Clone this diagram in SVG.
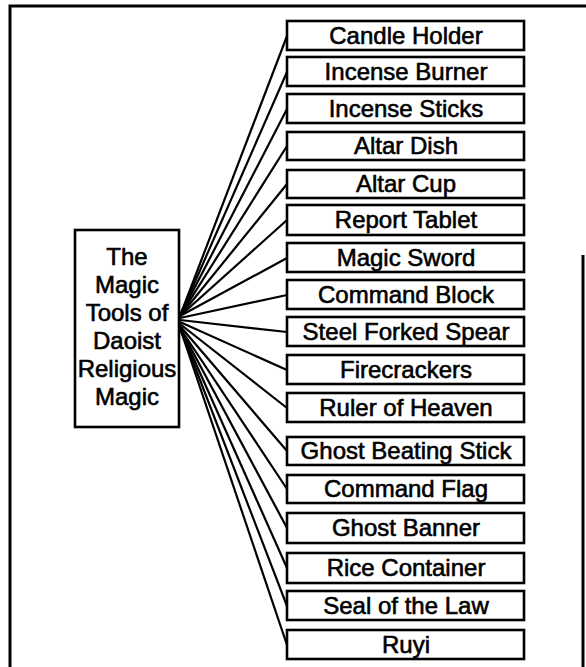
<svg xmlns="http://www.w3.org/2000/svg" width="586" height="667" viewBox="0 0 586 667">
<style>
.frame{fill:none;stroke:#000;stroke-width:3}
.box{fill:#fff;stroke:#000;stroke-width:2.6}
.t{font-family:"Liberation Sans",Arial,sans-serif;font-size:24px;fill:#000;stroke:#000;stroke-width:0.6;text-anchor:middle}
.c{stroke:#000;stroke-width:2.2;fill:none}
</style>
<rect width="586" height="667" fill="#fff"/>
<path class="frame" d="M10,670 V6 H586 M583,255 V670"/>
<g id="connectors">
<line class="c" x1="180" y1="316" x2="287" y2="36"/>
<line class="c" x1="180" y1="316" x2="287" y2="72"/>
<line class="c" x1="180" y1="316" x2="287" y2="109"/>
<line class="c" x1="180" y1="316" x2="287" y2="146"/>
<line class="c" x1="180" y1="316" x2="287" y2="184"/>
<line class="c" x1="180" y1="316" x2="287" y2="220"/>
<line class="c" x1="180" y1="316" x2="287" y2="258"/>
<line class="c" x1="180" y1="318" x2="287" y2="295"/>
<line class="c" x1="180" y1="320" x2="287" y2="332"/>
<line class="c" x1="180" y1="322" x2="287" y2="370"/>
<line class="c" x1="180" y1="324" x2="287" y2="408"/>
<line class="c" x1="180" y1="326" x2="287" y2="451"/>
<line class="c" x1="180" y1="328" x2="287" y2="489"/>
<line class="c" x1="180" y1="328" x2="287" y2="528"/>
<line class="c" x1="180" y1="328" x2="287" y2="568"/>
<line class="c" x1="180" y1="328" x2="287" y2="606"/>
<line class="c" x1="180" y1="328" x2="287" y2="645"/>
</g>
<g id="root">
<rect class="box" x="75" y="230" width="104" height="197"/>
<text class="t" x="127" y="265">The</text>
<text class="t" x="127" y="293">Magic</text>
<text class="t" x="127" y="321">Tools of</text>
<text class="t" x="127" y="349">Daoist</text>
<text class="t" x="127" y="377">Religious</text>
<text class="t" x="127" y="405">Magic</text>
</g>
<g id="n1"><rect class="box" x="287" y="21" width="237" height="29"/><text class="t" x="406" y="44">Candle Holder</text></g>
<g id="n2"><rect class="box" x="287" y="57" width="237" height="29"/><text class="t" x="406" y="80">Incense Burner</text></g>
<g id="n3"><rect class="box" x="287" y="94" width="237" height="29"/><text class="t" x="406" y="117">Incense Sticks</text></g>
<g id="n4"><rect class="box" x="287" y="132" width="237" height="28"/><text class="t" x="406" y="154">Altar Dish</text></g>
<g id="n5"><rect class="box" x="287" y="170" width="237" height="28"/><text class="t" x="406" y="192">Altar Cup</text></g>
<g id="n6"><rect class="box" x="287" y="205" width="237" height="30"/><text class="t" x="406" y="228">Report Tablet</text></g>
<g id="n7"><rect class="box" x="287" y="243" width="237" height="29"/><text class="t" x="406" y="266">Magic Sword</text></g>
<g id="n8"><rect class="box" x="287" y="280" width="237" height="29"/><text class="t" x="406" y="303">Command Block</text></g>
<g id="n9"><rect class="box" x="287" y="317" width="237" height="29"/><text class="t" x="406" y="340">Steel Forked Spear</text></g>
<g id="n10"><rect class="box" x="287" y="355" width="237" height="29"/><text class="t" x="406" y="378">Firecrackers</text></g>
<g id="n11"><rect class="box" x="287" y="393" width="237" height="29"/><text class="t" x="406" y="416">Ruler of Heaven</text></g>
<g id="n12"><rect class="box" x="287" y="437" width="237" height="28"/><text class="t" x="406" y="459">Ghost Beating Stick</text></g>
<g id="n13"><rect class="box" x="287" y="475" width="237" height="28"/><text class="t" x="406" y="497">Command Flag</text></g>
<g id="n14"><rect class="box" x="287" y="513" width="237" height="30"/><text class="t" x="406" y="536">Ghost Banner</text></g>
<g id="n15"><rect class="box" x="287" y="553" width="237" height="30"/><text class="t" x="406" y="576">Rice Container</text></g>
<g id="n16"><rect class="box" x="287" y="591" width="237" height="29"/><text class="t" x="406" y="614">Seal of the Law</text></g>
<g id="n17"><rect class="box" x="287" y="630" width="237" height="29"/><text class="t" x="406" y="653">Ruyi</text></g>
</svg>
